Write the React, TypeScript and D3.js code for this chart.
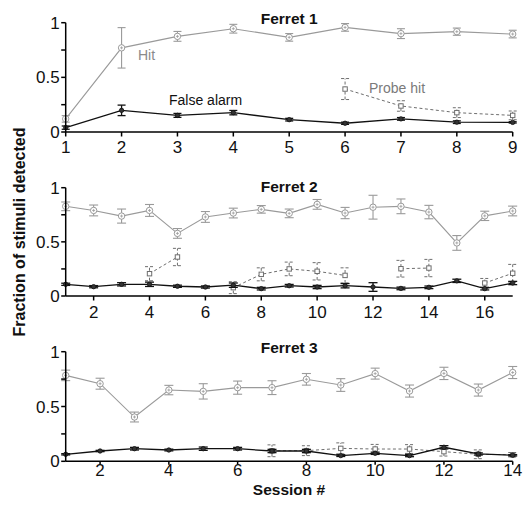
import React from "react";
import * as d3 from "d3";

// ---------- data ----------
const ferret1Hit = [0.12, 0.77, 0.875, 0.945, 0.866, 0.957, 0.9, 0.918, 0.896];
const ferret1HitErr = [0.03, 0.185, 0.045, 0.04, 0.035, 0.035, 0.045, 0.033, 0.035];
const ferret1FA = [0.04, 0.198, 0.152, 0.177, 0.113, 0.08, 0.12, 0.09, 0.088];
const ferret1FAErr = [0.015, 0.048, 0.018, 0.02, 0.012, 0.01, 0.012, 0.012, 0.006];
const ferret1Probe = [null, null, null, null, null, 0.393, 0.238, 0.177, 0.152];
const ferret1ProbeErr = [0, 0, 0, 0, 0, 0.096, 0.048, 0.045, 0.04];

const ferret2Hit = [0.828, 0.79, 0.738, 0.79, 0.578, 0.73, 0.766, 0.8, 0.763, 0.846, 0.766, 0.82, 0.828, 0.775, 0.49, 0.74, 0.785];
const ferret2HitErr = [0.04, 0.05, 0.065, 0.055, 0.045, 0.05, 0.045, 0.035, 0.04, 0.045, 0.052, 0.11, 0.068, 0.062, 0.068, 0.043, 0.045];
const ferret2FA = [0.108, 0.086, 0.108, 0.108, 0.09, 0.083, 0.1, 0.068, 0.095, 0.083, 0.095, 0.083, 0.07, 0.08, 0.14, 0.068, 0.12];
const ferret2FAErr = [0.01, 0.01, 0.015, 0.02, 0.01, 0.01, 0.02, 0.012, 0.012, 0.015, 0.02, 0.04, 0.012, 0.012, 0.015, 0.012, 0.015];
const ferret2Probe = [null, null, null, 0.206, 0.36, null, 0.077, 0.2, 0.25, 0.228, 0.19, null, 0.252, 0.258, null, 0.12, 0.21];
const ferret2ProbeErr = [0, 0, 0, 0.065, 0.08, 0, 0.055, 0.06, 0.063, 0.08, 0.07, 0, 0.077, 0.08, 0, 0.042, 0.082];

const ferret3Hit = [0.784, 0.708, 0.404, 0.65, 0.638, 0.672, 0.672, 0.748, 0.696, 0.8, 0.641, 0.802, 0.65, 0.81];
const ferret3HitErr = [0.048, 0.05, 0.045, 0.043, 0.07, 0.06, 0.063, 0.053, 0.058, 0.05, 0.055, 0.056, 0.055, 0.055];
const ferret3FA = [0.064, 0.094, 0.115, 0.103, 0.115, 0.115, 0.094, 0.094, 0.052, 0.073, 0.052, 0.128, 0.067, 0.055];
const ferret3FAErr = [0.006, 0.006, 0.012, 0.008, 0.015, 0.012, 0.015, 0.015, 0.008, 0.01, 0.01, 0.015, 0.01, 0.006];
const ferret3Probe = [null, null, null, null, null, null, 0.096, 0.097, 0.118, 0.112, 0.112, 0.088, 0.064, 0.06];
const ferret3ProbeErr = [0, 0, 0, 0, 0, 0, 0.054, 0.045, 0.05, 0.042, 0.04, 0.04, 0.04, 0.02];

const titles = ["Ferret 1", "Ferret 2", "Ferret 3"];
const xTicks1 = [1, 2, 3, 4, 5, 6, 7, 8, 9];
const xTicks2 = [2, 4, 6, 8, 10, 12, 14, 16];
const xTicks3 = [2, 4, 6, 8, 10, 12, 14];
const yTicks = [0, 0.25, 0.5, 0.75, 1];
const yTickLabels = ["0", "", "0.5", "", "1"];

// ---------- layout ----------
const W = 523;
const H = 508;
const X0 = 65.7;
const X1 = 512.7;
const FONT = "'Liberation Sans', Arial, Helvetica, sans-serif";
const HIT_COLOR = "#9a9a9a";
const FA_COLOR = "#111";
const PROBE_COLOR = "#6e6e6e";

type Panel = {
  title: string;
  hit: number[]; hitErr: number[];
  fa: number[]; faErr: number[];
  probe: (number | null)[]; probeErr: number[];
  xTicks: number[];
  y0: number; y1: number;
  labelGap: number;
  tickLen: number;
  titleY: number;
  cap: number;
};

const panels: Panel[] = [
  { title: titles[0], hit: ferret1Hit, hitErr: ferret1HitErr, fa: ferret1FA, faErr: ferret1FAErr, probe: ferret1Probe, probeErr: ferret1ProbeErr, xTicks: xTicks1, y0: 132, y1: 22.7, labelGap: 20.5, tickLen: 4.5, titleY: 24, cap: 4 },
  { title: titles[1], hit: ferret2Hit, hitErr: ferret2HitErr, fa: ferret2FA, faErr: ferret2FAErr, probe: ferret2Probe, probeErr: ferret2ProbeErr, xTicks: xTicks2, y0: 296, y1: 187.7, labelGap: 22, tickLen: 4.5, titleY: 191.5, cap: 4.5 },
  { title: titles[2], hit: ferret3Hit, hitErr: ferret3HitErr, fa: ferret3FA, faErr: ferret3FAErr, probe: ferret3Probe, probeErr: ferret3ProbeErr, xTicks: xTicks3, y0: 461.3, y1: 351.7, labelGap: 14.5, tickLen: 3.5, titleY: 353, cap: 4.5 },
];

function ErrBar({ x, yLo, yHi, cap, color, dashed, width }: any) {
  const da = dashed ? "3,2" : undefined;
  return (
    <g stroke={color} strokeWidth={width} fill="none" strokeDasharray={da}>
      <line x1={x} x2={x} y1={yLo} y2={yHi} />
      <line x1={x - cap} x2={x + cap} y1={yLo} y2={yLo} />
      <line x1={x - cap} x2={x + cap} y1={yHi} y2={yHi} />
    </g>
  );
}

function PanelView({ p }: { p: Panel }) {
  const n = p.hit.length;
  const x = d3.scaleLinear().domain([1, n]).range([X0, X1]);
  const y = d3.scaleLinear().domain([0, 1]).range([p.y0, p.y1]);
  const line = d3.line<number>().x((_, i) => x(i + 1)).y((d) => y(d));
  const probeLine = d3
    .line<number | null>()
    .defined((d) => d != null)
    .x((_, i) => x(i + 1))
    .y((d) => y(d as number));

  return (
    <g>
      {/* probe hit */}
      <path d={probeLine(p.probe) || ""} fill="none" stroke={PROBE_COLOR} strokeWidth={1} strokeDasharray="3,2.5" />
      {p.probe.map((v, i) =>
        v == null ? null : (
          <g key={"p" + i}>
            <ErrBar x={x(i + 1)} yLo={y(v - p.probeErr[i])} yHi={y(v + p.probeErr[i])} cap={p.cap} color={PROBE_COLOR} dashed width={1} />
            <rect x={x(i + 1) - 2.2} y={y(v) - 2.2} width={4.4} height={4.4} fill="white" stroke={PROBE_COLOR} strokeWidth={1} />
          </g>
        )
      )}
      {/* hit */}
      <path d={line(p.hit) || ""} fill="none" stroke={HIT_COLOR} strokeWidth={1.1} />
      {p.hit.map((v, i) => (
        <g key={"h" + i}>
          <ErrBar x={x(i + 1)} yLo={y(v - p.hitErr[i])} yHi={y(v + p.hitErr[i])} cap={p.cap} color={HIT_COLOR} width={1.1} />
          <circle cx={x(i + 1)} cy={y(v)} r={3.2} fill="white" stroke={HIT_COLOR} strokeWidth={1} />
          <line x1={x(i + 1) - 1.5} x2={x(i + 1) + 1.5} y1={y(v)} y2={y(v)} stroke={HIT_COLOR} strokeWidth={0.8} />
          <line x1={x(i + 1)} x2={x(i + 1)} y1={y(v) - 1.5} y2={y(v) + 1.5} stroke={HIT_COLOR} strokeWidth={0.8} />
        </g>
      ))}
      {/* false alarm */}
      <path d={line(p.fa) || ""} fill="none" stroke={FA_COLOR} strokeWidth={1.3} />
      {p.fa.map((v, i) => (
        <g key={"f" + i}>
          <ErrBar x={x(i + 1)} yLo={y(v - p.faErr[i])} yHi={y(v + p.faErr[i])} cap={p.cap} color={FA_COLOR} width={1.3} />
          <circle cx={x(i + 1)} cy={y(v)} r={2.2} fill="#333" stroke={FA_COLOR} strokeWidth={0.8} />
        </g>
      ))}
      {/* axes */}
      <g stroke="#000" strokeWidth={1.5} fill="none">
        <line x1={X0} x2={X0} y1={y(1)} y2={y(0)} />
        <line x1={X0} x2={X1} y1={y(0)} y2={y(0)} />
        {yTicks.map((t) => (
          <line key={"yt" + t} x1={X0 - 4.5} x2={X0} y1={y(t)} y2={y(t)} />
        ))}
        {p.xTicks.map((t) => (
          <line key={"xt" + t} x1={x(t)} x2={x(t)} y1={y(0)} y2={y(0) + p.tickLen} />
        ))}
      </g>
      <g fontFamily={FONT} fontSize={17} fill="#111">
        {yTicks.map((t, i) => (
          <text key={"yl" + t} x={X0 - 6} y={y(t)} dy="0.36em" textAnchor="end">
            {yTickLabels[i]}
          </text>
        ))}
        {p.xTicks.map((t) => (
          <text key={"xl" + t} x={x(t)} y={y(0) + p.labelGap} textAnchor="middle">
            {t}
          </text>
        ))}
      </g>
      <text x={(X0 + X1) / 2} y={p.titleY} textAnchor="middle" fontFamily={FONT} fontWeight="bold" fontSize={15.5} fill="#111">
        {p.title}
      </text>
    </g>
  );
}

export default function App() {
  return (
    <svg width={W} height={H} style={{ position: "absolute", left: 0, top: 0, background: "white" }}>
      <rect width={W} height={H} fill="white" />
      {panels.map((p, i) => (
        <PanelView key={i} p={p} />
      ))}
      <g fontFamily={FONT} fontSize={14}>
        <text x={138} y={60} fill="#8a8a8a">Hit</text>
        <text x={169} y={104.5} fill="#111">False alarm</text>
        <text x={369} y={92.5} fill="#7a7a7a">Probe hit</text>
      </g>
      <text x={289} y={494.5} textAnchor="middle" fontFamily={FONT} fontWeight="bold" fontSize={15.5} fill="#111">
        Session #
      </text>
      <text transform="translate(25,232) rotate(-90)" textAnchor="middle" fontFamily={FONT} fontWeight="bold" fontSize={16} fill="#111">
        Fraction of stimuli detected
      </text>
    </svg>
  );
}
